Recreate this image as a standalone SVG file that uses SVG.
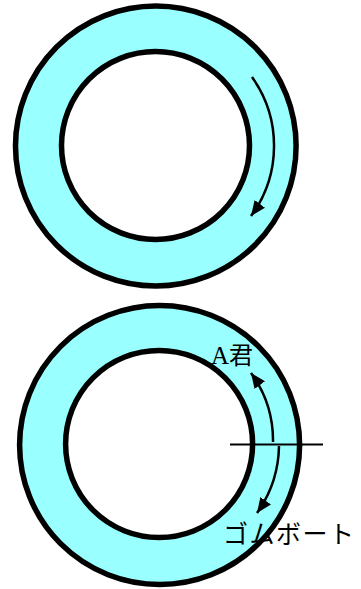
<svg xmlns="http://www.w3.org/2000/svg" width="361" height="589" viewBox="0 0 361 589">
<style>
.ring{fill:#99ffff;fill-rule:evenodd;stroke:none}
.edge{fill:none;stroke:#000;stroke-width:5.5}
.arc{fill:none;stroke:#000;stroke-width:2.5;marker-end:url(#ah)}
.lbl{font-family:"Liberation Serif","Noto Sans CJK JP",serif;fill:#000}
</style>
<defs>
<marker id="ah" markerUnits="userSpaceOnUse" markerWidth="16" markerHeight="14" refX="15" refY="6.5" orient="auto" viewBox="0 0 16 13">
<path d="M0,0 L15,6.5 L0,13 Z" fill="#000"/>
</marker>
</defs>
<rect width="361" height="589" fill="#fff"/>
<g id="ring-top">
<path class="ring" d="M15.5,146 a140.3,140 0 1,0 280.6,0 a140.3,140 0 1,0 -280.6,0 Z M61.5,145.5 a94,94 0 1,0 188,0 a94,94 0 1,0 -188,0 Z"/>
</g>
<g id="ring-bottom">
<path class="ring" d="M19.6,445 a140,139.5 0 1,0 280,0 a140,139.5 0 1,0 -280,0 Z M65.6,444 a93.5,93.5 0 1,0 187,0 a93.5,93.5 0 1,0 -187,0 Z"/>
</g>
<g id="labels">
<text class="lbl" x="211" y="364" font-size="24"><tspan font-size="25">A</tspan>君</text>
<text class="lbl" x="223" y="543" font-size="25" textLength="131" lengthAdjust="spacing">ゴムボート</text>
</g>
<g id="ring-edges">
<ellipse class="edge" cx="155.8" cy="146" rx="140.3" ry="140"/>
<ellipse class="edge" cx="155.5" cy="145.5" rx="94" ry="94"/>
<ellipse class="edge" cx="159.6" cy="445" rx="140" ry="139.5"/>
<ellipse class="edge" cx="159.1" cy="444" rx="93.5" ry="93.5"/>
</g>
<g id="connectors">
<path class="arc" d="M252,77 A118.5,118.5 0 0,1 251,216"/>
<path class="arc" d="M273,442 A115,115 0 0,0 251,373"/>
<path class="arc" d="M279,446 A119,119 0 0,1 257,513"/>
<line x1="230" y1="444.5" x2="323" y2="444.5" stroke="#000" stroke-width="2"/>
</g>
</svg>
